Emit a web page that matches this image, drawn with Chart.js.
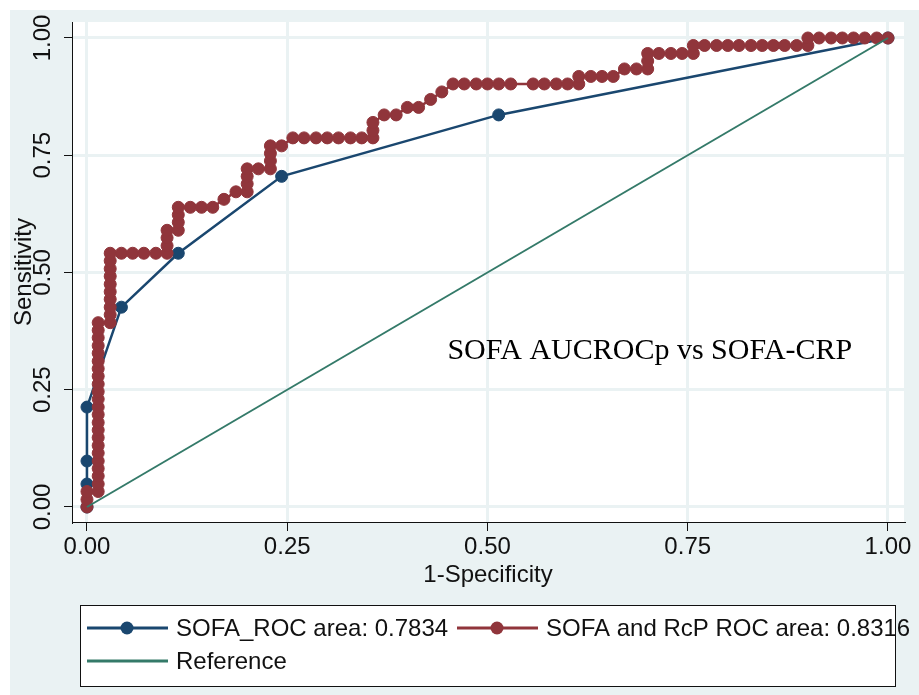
<!DOCTYPE html>
<html>
<head>
<meta charset="utf-8">
<script src="https://cdn.jsdelivr.net/npm/chart.js@4.4.1/dist/chart.umd.min.js"></script>
<style>
  html, body { margin: 0; padding: 0; background: #fff; }
  #roc { display: block; }
</style>
</head>
<body>
<canvas id="roc" width="919" height="695"></canvas>
<script>
// tick values / labels (shared by both axes)
const tickValues = [0, 0.25, 0.5, 0.75, 1]
const tickLabels = ["0.00", "0.25", "0.50", "0.75", "1.00"]

// SOFA alone
const sofaFpr = [0, 0, 0, 0, 0.043, 0.114, 0.243, 0.514, 1]
const sofaTpr = [0, 0.049, 0.098, 0.213, 0.426, 0.541, 0.705, 0.836, 1]

// SOFA + CRP
const crpFpr = [
  0, 0, 0,
  .014, .014, .014, .014, .014, .014, .014, .014, .014, .014, .014, .014,
  .014, .014, .014, .014, .014, .014, .014, .014, .014, .014, .014,
  .029, .029, .029, .029, .029, .029, .029, .029, .029, .029,
  .043, .057, .071, .086,
  .1, .1, .1, .1,
  .114, .114, .114, .114,
  .129, .143, .157,
  .171, .186,
  .2, .2, .2, .2,
  .214,
  .229, .229, .229, .229,
  .243,
  .257, .271, .286, .3, .314, .329, .343, .357,
  .357, .357,
  .371, .386, .4, .414, .429, .443, .457, .471, .486, .5, .514, .529,
  .557, .571, .586, .6,
  .614, .614, .629, .643, .657,
  .671, .686, .7, .7, .7,
  .714, .729, .743, .757, .757,
  .771, .786, .8, .814, .829, .843, .857, .871, .886, .9,
  .9, .914, .929, .943, .957, .971, .986, 1
]
const crpTpr = [
  0, .016, .033,
  .033, .049, .066, .082, .098, .115, .131, .148, .164, .18, .197, .213,
  .23, .246, .262, .279, .295, .311, .328, .344, .361, .377, .393,
  .393, .41, .426, .443, .459, .475, .492, .508, .525, .541,
  .541, .541, .541, .541,
  .541, .557, .574, .59,
  .59, .607, .623, .639,
  .639, .639, .639,
  .656, .672,
  .672, .689, .705, .721,
  .721,
  .721, .738, .754, .77,
  .77,
  .787, .787, .787, .787, .787, .787, .787, .787,
  .803, .82,
  .836, .836, .852, .852, .869, .885, .902, .902, .902, .902, .902, .902,
  .902, .902, .902, .902,
  .902, .918, .918, .918, .918,
  .934, .934, .934, .951, .967,
  .967, .967, .967, .967, .984,
  .984, .984, .984, .984, .984, .984, .984, .984, .984, .984,
  1, 1, 1, 1, 1, 1, 1, 1
]

// diagonal reference
const refFpr = [0, 1]
const refTpr = [0, 1]

const seriesLabels = ["SOFA_ROC area: 0.7834", "SOFA and RcP ROC area: 0.8316", "Reference"]
const noteText = "SOFA AUCROCp vs SOFA-CRP"

const NAVY = "#1a476f", MAROON = "#90353b", GREEN = "#347a69"
const BG = "#eaf2f3"

const pts = (xs, ys) => xs.map((x, i) => ({x: x, y: ys[i]}))

Chart.defaults.font.family = "'Liberation Sans', Arial, sans-serif"
Chart.defaults.font.size = 24
Chart.defaults.color = "#111"

const decor = {
  id: "decor",
  beforeDraw(chart) {
    const {ctx, chartArea: a} = chart
    ctx.save()
    ctx.fillStyle = "#fff"
    ctx.fillRect(0, 0, chart.width, chart.height)
    ctx.fillStyle = BG
    ctx.fillRect(10, 10, chart.width - 10, chart.height - 10)
    ctx.fillStyle = "#fff"
    ctx.fillRect(a.left, a.top, a.right - a.left, a.bottom - a.top)
    ctx.restore()
  },
  afterDraw(chart) {
    const ctx = chart.ctx
    const xs = chart.scales.x, ys = chart.scales.y
    ctx.save()
    // rotated y tick labels
    ctx.fillStyle = "#111"
    ctx.font = "24px 'Liberation Sans', Arial, sans-serif"
    ctx.textAlign = "center"
    ctx.textBaseline = "alphabetic"
    tickValues.forEach((v, i) => {
      ctx.save()
      ctx.translate(50, ys.getPixelForValue(v))
      ctx.rotate(-Math.PI / 2)
      ctx.fillText(tickLabels[i], 0, 0)
      ctx.restore()
    })

    // note inside plot
    ctx.font = "30px 'Liberation Serif', 'Times New Roman', serif"
    ctx.textAlign = "left"
    ctx.fillStyle = "#000"
    ctx.fillText(noteText, xs.getPixelForValue(0.45), ys.getPixelForValue(0.316))

    // legend box
    ctx.fillStyle = "#fff"
    ctx.fillRect(80, 605, 815, 81)
    ctx.strokeStyle = "#111"
    ctx.lineWidth = 1
    ctx.strokeRect(80.5, 605.5, 815, 81)

    const ds = chart.data.datasets
    const items = [
      {d: ds[0], x: 87, y: 628, marker: true},
      {d: ds[1], x: 457, y: 628, marker: true},
      {d: ds[2], x: 87, y: 661, marker: false}
    ]
    ctx.font = "24px 'Liberation Sans', Arial, sans-serif"
    ctx.textBaseline = "middle"
    items.forEach(it => {
      ctx.strokeStyle = it.d.borderColor
      ctx.lineWidth = 3
      ctx.beginPath()
      ctx.moveTo(it.x, it.y)
      ctx.lineTo(it.x + 81, it.y)
      ctx.stroke()
      if (it.marker) {
        ctx.fillStyle = it.d.borderColor
        ctx.beginPath()
        ctx.arc(it.x + 40, it.y, 6.5, 0, Math.PI * 2)
        ctx.fill()
      }
      ctx.fillStyle = "#111"
      ctx.fillText(it.d.label, it.x + 89, it.y + 1)
    })
    ctx.restore()
  }
}

new Chart(document.getElementById("roc"), {
  type: "scatter",
  data: {
    datasets: [
      {
        label: seriesLabels[0],
        data: pts(sofaFpr, sofaTpr),
        showLine: true,
        borderColor: NAVY,
        backgroundColor: NAVY,
        borderWidth: 2.5,
        pointRadius: 6,
        pointBorderWidth: 1,
        pointBorderColor: NAVY,
        order: 3
      },
      {
        label: seriesLabels[1],
        data: pts(crpFpr, crpTpr),
        showLine: true,
        borderColor: MAROON,
        backgroundColor: MAROON,
        borderWidth: 2.5,
        pointRadius: 6,
        pointBorderWidth: 1,
        pointBorderColor: MAROON,
        order: 2
      },
      {
        label: seriesLabels[2],
        data: pts(refFpr, refTpr),
        showLine: true,
        borderColor: GREEN,
        borderWidth: 2,
        pointRadius: 0,
        order: 1
      }
    ]
  },
  options: {
    responsive: false,
    animation: false,
    devicePixelRatio: 1,
    layout: { padding: { left: 10, top: 22, right: 15, bottom: 93 } },
    plugins: { legend: { display: false }, tooltip: { enabled: false } },
    scales: {
      x: {
        type: "linear",
        min: -0.0187,
        max: 1.02,
        afterBuildTicks: s => { s.ticks = tickValues.map(v => ({value: v})) },
        afterFit: s => { s.height = 80 },
        ticks: {
          autoSkip: false,
          maxRotation: 0,
          padding: 2,
          color: "#111",
          callback: (v, i) => tickLabels[i]
        },
        grid: { color: BG, lineWidth: 3, tickColor: "#111", tickWidth: 1, tickLength: 9 },
        border: { display: true, color: "#111", width: 1 },
        title: { display: true, text: "1-Specificity", color: "#111", padding: { top: 0, bottom: 12 } }
      },
      y: {
        type: "linear",
        min: -0.032,
        max: 1.0341,
        afterBuildTicks: s => { s.ticks = tickValues.map(v => ({value: v})) },
        afterFit: s => { s.width = 62 },
        ticks: { display: false },
        grid: { color: BG, lineWidth: 3, tickColor: "#111", tickWidth: 1, tickLength: 8 },
        border: { display: true, color: "#111", width: 1 },
        title: { display: true, text: "Sensitivity", color: "#111", padding: { top: 0, bottom: 0 } }
      }
    }
  },
  plugins: [decor]
})
</script>
</body>
</html>
